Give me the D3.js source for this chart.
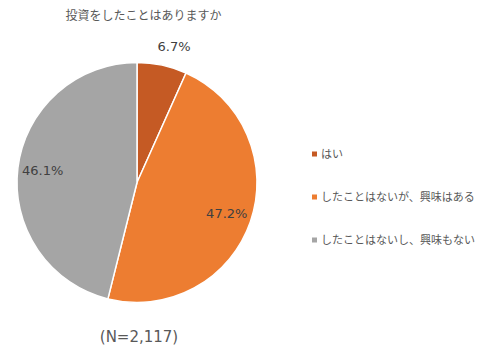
<!DOCTYPE html>
<html><head><meta charset="utf-8">
<script src="https://cdn.jsdelivr.net/npm/d3@7"></script>
<style>html,body{margin:0;padding:0;background:#fff;}</style>
</head><body>
<svg id="c" width="492" height="358"></svg>
<script>
const title = "投資をしたことはありますか";
const categories = ["はい", "したことはないが、興味はある", "したことはないし、興味もない"];
const values = [6.7, 47.2, 46.1];
const colors = ["#C55A24", "#ED7D31", "#A5A5A5"];
const note = "(N=2,117)";

const svg = d3.select("#c");
const cx = 137, cy = 182.5, R = 120;
const jp = "'Noto Sans CJK JP', 'Noto Sans', sans-serif";
const num = "'DejaVu Sans', Verdana, sans-serif";

svg.append("text").attr("x", 143.5).attr("y", 19.5).attr("text-anchor", "middle")
  .attr("font-family", jp).attr("font-size", 12).attr("fill", "#595959").text(title);

const data = categories.map((c, i) => ({cat: c, value: values[i], color: colors[i]}));
const pie = d3.pie().value(d => d.value).sort(null);
const arcs = pie(data);
const arc = d3.arc().innerRadius(0).outerRadius(R);
const g = svg.append("g").attr("transform", `translate(${cx},${cy})`);
g.selectAll("path").data(arcs).join("path")
  .attr("d", arc).attr("fill", d => d.data.color)
  .attr("stroke", "#fff").attr("stroke-width", 1.5).attr("stroke-linejoin", "round");

const labelR = d => (d.endAngle - d.startAngle) < 0.6 ? 139 : 95;
g.selectAll("text.v").data(arcs).join("text").attr("class", "v")
  .attr("x", d => { const a = (d.startAngle + d.endAngle) / 2; return Math.sin(a) * labelR(d) + ((d.endAngle - d.startAngle) < 0.6 ? 8 : 0); })
  .attr("y", d => { const a = (d.startAngle + d.endAngle) / 2; return -Math.cos(a) * labelR(d); })
  .attr("dy", "0.35em").attr("text-anchor", "middle")
  .attr("font-family", num).attr("font-size", 13).attr("fill", "#404040")
  .text(d => d.data.value.toFixed(1) + "%");

const lg = svg.append("g").attr("transform", "translate(312,0)");
const ly = [154, 197, 240];
data.forEach((d, i) => {
  lg.append("rect").attr("x", 0).attr("y", ly[i] - 2.5).attr("width", 5).attr("height", 5).attr("fill", d.color);
  lg.append("text").attr("x", 9).attr("y", ly[i]).attr("dy", "0.36em")
    .attr("font-family", jp).attr("font-size", 11).attr("fill", "#595959").text(d.cat);
});

svg.append("text").attr("x", 139).attr("y", 337).attr("dy", "0.35em").attr("text-anchor", "middle")
  .attr("font-family", num).attr("font-size", 15).attr("fill", "#595959").text(note);
</script>
</body></html>
